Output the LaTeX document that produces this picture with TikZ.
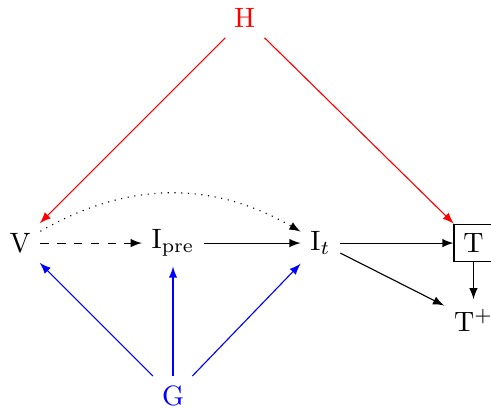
\documentclass[tikz,border=0pt]{standalone}
\usetikzlibrary{arrows}
\begin{document}
\begin{tikzpicture}[
    var/.style={inner sep=0.333em},
    obs/.style={draw, inner sep=0.333em},
    line/.style={draw, -latex}
]
    \useasboundingbox (-0.251,-2.07) rectangle (5.91,3.05);

    \node [var] (v) at (0,0) {V};
    \node [var] (ipre) at (1.92,0) {I$_{\mathrm{pre}}$};
    \node [var] (it) at (3.77,0) {I$_t$};
    \node [obs] (t) at (5.69,0) {T};
    \node [var] (tplus) at (5.69,-0.97) {T$^+$};

    \node [var, text=red] (h) at (2.82,2.82) {H};
    \node [var, text=blue] (g) at (1.92,-1.92) {G};

    \draw [line, dashed] (v) -- (ipre);
    \draw [line] (ipre) -- (it);
    \draw [line, dotted] (v) to [bend left] (it);
    \draw [line] (it) -- (t);
    \draw [line] (it) -- (tplus);
    \draw [line] (t) -- (tplus);

    \draw [line, red] (h) -- (v);
    \draw [line, red] (h) -- (t);

    \draw [line, blue] (g) -- (v);
    \draw [line, blue] (g) -- (ipre);
    \draw [line, blue] (g) -- (it);
\end{tikzpicture}
\end{document}
